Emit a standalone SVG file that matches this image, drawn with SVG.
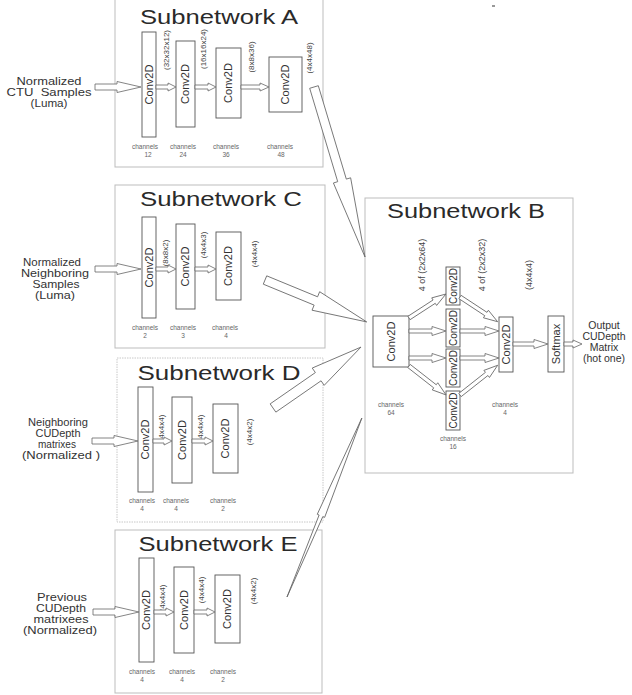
<svg xmlns="http://www.w3.org/2000/svg" width="632" height="695" viewBox="0 0 632 695">
<style>
text{font-family:"Liberation Sans",Arial,sans-serif}
.frame{fill:none;stroke:#bdbdbd;stroke-width:1}
.dash{stroke:#c8c8c8;stroke-dasharray:1.5 1}
.conv{fill:#fff;stroke:#555;stroke-width:0.9}
.arrow{fill:#fff;stroke:#666;stroke-width:0.8}
.title{font-size:20px;fill:#2a2a2a;text-anchor:middle}
.lbl{font-size:10.5px;fill:#333;text-anchor:middle}
.cv{font-size:11px;fill:#333;text-anchor:middle}
.cvs{font-size:10px;fill:#333;text-anchor:middle}
.dim{font-size:8px;fill:#444;text-anchor:middle}
.dimb{font-size:9px;fill:#444;text-anchor:middle}
.ch{font-size:6.5px;fill:#666;text-anchor:middle}
</style>
<rect x="0" y="0" width="632" height="695" fill="#fff"/>
<rect x="492" y="5" width="3" height="2" fill="#999"/>

<!-- Subnetwork A -->
<g id="subnetA">
<rect class="frame" x="115" y="-5" width="208" height="172"/>
<text class="title" x="219" y="24" textLength="158" lengthAdjust="spacingAndGlyphs">Subnetwork A</text>
<g id="A-input"><text class="lbl" x="49" y="85" textLength="65" lengthAdjust="spacingAndGlyphs">Normalized</text>
<text class="lbl" x="49" y="96" textLength="85" lengthAdjust="spacingAndGlyphs" xml:space="preserve">CTU  Samples</text>
<text class="lbl" x="49" y="107" textLength="37" lengthAdjust="spacingAndGlyphs">(Luma)</text></g>
<g id="A-conv1"><rect class="conv" x="142" y="32" width="14" height="105"/><text class="cv" transform="translate(149,84.5) rotate(-90)" dy="0.35em">Conv2D</text></g>
<g id="A-conv2"><rect class="conv" x="176" y="41" width="19" height="86"/><text class="cv" transform="translate(185.5,84) rotate(-90)" dy="0.35em">Conv2D</text></g>
<g id="A-conv3"><rect class="conv" x="216" y="48" width="25" height="70"/><text class="cv" transform="translate(228.5,83) rotate(-90)" dy="0.35em">Conv2D</text></g>
<g id="A-conv4"><rect class="conv" x="269" y="57" width="33" height="55"/><text class="cv" transform="translate(285.5,84.5) rotate(-90)" dy="0.35em">Conv2D</text></g>
<text class="dim" transform="translate(166,50) rotate(-90)" dy="0.35em">(32x32x12)</text>
<text class="dim" transform="translate(203,49) rotate(-90)" dy="0.35em">(16x16x24)</text>
<text class="dim" transform="translate(251,57) rotate(-90)" dy="0.35em">(8x8x36)</text>
<text class="dim" transform="translate(309,58) rotate(-90)" dy="0.35em">(4x4x48)</text>
<text class="ch" x="145" y="149">channels</text><text class="ch" x="148" y="157">12</text>
<text class="ch" x="183" y="149">channels</text><text class="ch" x="183" y="157">24</text>
<text class="ch" x="226" y="149">channels</text><text class="ch" x="226" y="157">36</text>
<text class="ch" x="280" y="149">channels</text><text class="ch" x="281" y="157">48</text>
</g>

<!-- Subnetwork C -->
<g id="subnetC">
<rect class="frame" x="115" y="185" width="210" height="163"/>
<text class="title" x="221" y="206" textLength="162" lengthAdjust="spacingAndGlyphs">Subnetwork C</text>
<g id="C-input"><text class="lbl" x="52" y="266" textLength="58" lengthAdjust="spacingAndGlyphs">Normalized</text>
<text class="lbl" x="55" y="277" textLength="68" lengthAdjust="spacingAndGlyphs">Neighboring</text>
<text class="lbl" x="56" y="288" textLength="47" lengthAdjust="spacingAndGlyphs">Samples</text>
<text class="lbl" x="55" y="299" textLength="40" lengthAdjust="spacingAndGlyphs">(Luma)</text></g>
<g id="C-conv1"><rect class="conv" x="142" y="217" width="14" height="101"/><text class="cv" transform="translate(149,267.5) rotate(-90)" dy="0.35em">Conv2D</text></g>
<g id="C-conv2"><rect class="conv" x="176" y="224" width="19" height="85"/><text class="cv" transform="translate(185.5,266.5) rotate(-90)" dy="0.35em">Conv2D</text></g>
<g id="C-conv3"><rect class="conv" x="216" y="232" width="25" height="68"/><text class="cv" transform="translate(228.5,266) rotate(-90)" dy="0.35em">Conv2D</text></g>
<text class="dim" transform="translate(165,253) rotate(-90)" dy="0.35em">(8x8x2)</text>
<text class="dim" transform="translate(203,245) rotate(-90)" dy="0.35em">(4x4x3)</text>
<text class="dim" transform="translate(254,254) rotate(-90)" dy="0.35em">(4x4x4)</text>
<text class="ch" x="145" y="330">channels</text><text class="ch" x="145" y="338">2</text>
<text class="ch" x="183" y="330">channels</text><text class="ch" x="183" y="338">3</text>
<text class="ch" x="225" y="330">channels</text><text class="ch" x="226" y="338">4</text>
</g>

<!-- Subnetwork D -->
<g id="subnetD">
<rect class="frame dash" x="117" y="358" width="206" height="164"/>
<text class="title" x="219" y="380" textLength="163" lengthAdjust="spacingAndGlyphs">Subnetwork D</text>
<g id="D-input"><text class="lbl" x="58" y="426" textLength="60" lengthAdjust="spacingAndGlyphs">Neighboring</text>
<text class="lbl" x="58" y="437" textLength="45" lengthAdjust="spacingAndGlyphs">CUDepth</text>
<text class="lbl" x="57" y="448" textLength="38" lengthAdjust="spacingAndGlyphs">matrixes</text>
<text class="lbl" x="61" y="459" textLength="78" lengthAdjust="spacingAndGlyphs" xml:space="preserve">(Normalized )</text></g>
<g id="D-conv1"><rect class="conv" x="138" y="387" width="15" height="105"/><text class="cv" transform="translate(145.5,439.5) rotate(-90)" dy="0.35em">Conv2D</text></g>
<g id="D-conv2"><rect class="conv" x="172" y="397" width="20" height="86"/><text class="cv" transform="translate(182,440) rotate(-90)" dy="0.35em">Conv2D</text></g>
<g id="D-conv3"><rect class="conv" x="213" y="404" width="25" height="69"/><text class="cv" transform="translate(225.5,438.5) rotate(-90)" dy="0.35em">Conv2D</text></g>
<text class="dim" transform="translate(161,428) rotate(-90)" dy="0.35em">(4x4x4)</text>
<text class="dim" transform="translate(200,428) rotate(-90)" dy="0.35em">(4x4x4)</text>
<text class="dim" transform="translate(249,432) rotate(-90)" dy="0.35em">(4x4x2)</text>
<text class="ch" x="142" y="503">channels</text><text class="ch" x="142" y="511">4</text>
<text class="ch" x="176" y="503">channels</text><text class="ch" x="176" y="511">4</text>
<text class="ch" x="223" y="503">channels</text><text class="ch" x="223" y="511">2</text>
</g>

<!-- Subnetwork E -->
<g id="subnetE">
<rect class="frame" x="115" y="530" width="207" height="163"/>
<text class="title" x="218" y="551" textLength="159" lengthAdjust="spacingAndGlyphs">Subnetwork E</text>
<g id="E-input"><text class="lbl" x="62" y="601" textLength="50" lengthAdjust="spacingAndGlyphs">Previous</text>
<text class="lbl" x="61" y="612" textLength="50" lengthAdjust="spacingAndGlyphs">CUDepth</text>
<text class="lbl" x="61" y="623" textLength="55" lengthAdjust="spacingAndGlyphs">matrixees</text>
<text class="lbl" x="60" y="634" textLength="74" lengthAdjust="spacingAndGlyphs">(Normalized)</text></g>
<g id="E-conv1"><rect class="conv" x="139" y="558" width="15" height="104"/><text class="cv" transform="translate(146.5,610) rotate(-90)" dy="0.35em">Conv2D</text></g>
<g id="E-conv2"><rect class="conv" x="174" y="567" width="20" height="86"/><text class="cv" transform="translate(184,610) rotate(-90)" dy="0.35em">Conv2D</text></g>
<g id="E-conv3"><rect class="conv" x="215" y="575" width="25" height="68"/><text class="cv" transform="translate(227.5,609) rotate(-90)" dy="0.35em">Conv2D</text></g>
<text class="dim" transform="translate(162,598) rotate(-90)" dy="0.35em">(4x4x4)</text>
<text class="dim" transform="translate(201,590) rotate(-90)" dy="0.35em">(4x4x4)</text>
<text class="dim" transform="translate(253,591) rotate(-90)" dy="0.35em">(4x4x2)</text>
<text class="ch" x="142" y="674">channels</text><text class="ch" x="142" y="682">4</text>
<text class="ch" x="182" y="674">channels</text><text class="ch" x="182" y="682">4</text>
<text class="ch" x="223" y="674">channels</text><text class="ch" x="223" y="682">2</text>
</g>

<!-- Subnetwork B -->
<g id="subnetB">
<rect class="frame" x="365" y="198" width="208" height="275"/>
<text class="title" x="466" y="218" textLength="158" lengthAdjust="spacingAndGlyphs">Subnetwork B</text>
<g id="B-conv64"><rect class="conv" x="373" y="316" width="36" height="51"/><text class="cv" transform="translate(391,341.5) rotate(-90)" dy="0.35em">Conv2D</text></g>
<g id="B-mid1"><rect class="conv" x="446" y="267" width="14" height="38"/><text class="cvs" transform="translate(453,286) rotate(-90)" dy="0.35em">Conv2D</text></g>
<g id="B-mid2"><rect class="conv" x="446" y="309" width="14" height="38"/><text class="cvs" transform="translate(453,328) rotate(-90)" dy="0.35em">Conv2D</text></g>
<g id="B-mid3"><rect class="conv" x="446" y="349" width="14" height="38"/><text class="cvs" transform="translate(453,368) rotate(-90)" dy="0.35em">Conv2D</text></g>
<g id="B-mid4"><rect class="conv" x="446" y="391" width="14" height="39"/><text class="cvs" transform="translate(453,410.5) rotate(-90)" dy="0.35em">Conv2D</text></g>
<g id="B-conv4"><rect class="conv" x="499" y="317" width="14" height="55"/><text class="cv" transform="translate(506,344.5) rotate(-90)" dy="0.35em">Conv2D</text></g>
<g id="B-softmax"><rect class="conv" x="548" y="316" width="16" height="56"/><text class="cv" transform="translate(556,344) rotate(-90)" dy="0.35em">Softmax</text></g>
<text class="dimb" transform="translate(422,265) rotate(-90)" dy="0.35em">4 of (2x2x64)</text>
<text class="dimb" transform="translate(482,265) rotate(-90)" dy="0.35em">4 of (2x2x32)</text>
<text class="dimb" transform="translate(529,275) rotate(-90)" dy="0.35em">(4x4x4)</text>
<text class="ch" x="391" y="406.5">channels</text><text class="ch" x="391" y="414.5">64</text>
<text class="ch" x="505" y="406.5">channels</text><text class="ch" x="505" y="414.5">4</text>
<text class="ch" x="453" y="440.5">channels</text><text class="ch" x="453" y="448.5">16</text>
</g>
<g id="output">
<text class="lbl" x="604" y="329">Output</text>
<text class="lbl" x="604" y="340">CUDepth</text>
<text class="lbl" x="604" y="351">Matrix</text>
<text class="lbl" x="604" y="362">(hot one)</text>
</g>

<g id="connectors">
<path class="arrow" transform="translate(95,87)" d="M0,-3 H22 V-5.5 L46,0 L22,5.5 V3 H0 Z"/>
<path class="arrow" transform="translate(95,269)" d="M0,-3 H22 V-5.5 L46,0 L22,5.5 V3 H0 Z"/>
<path class="arrow" transform="translate(92,441)" d="M0,-3 H22 V-5.5 L46,0 L22,5.5 V3 H0 Z"/>
<path class="arrow" transform="translate(93,612)" d="M0,-3 H22 V-5.5 L46,0 L22,5.5 V3 H0 Z"/>
<path class="arrow" transform="translate(156,87)" d="M0,-2 H12 V-4 L20,0 L12,4 V2 H0 Z"/>
<path class="arrow" transform="translate(195,87)" d="M0,-2 H13 V-4 L21,0 L13,4 V2 H0 Z"/>
<path class="arrow" transform="translate(241,87)" d="M0,-2 H19 V-4 L28,0 L19,4 V2 H0 Z"/>
<path class="arrow" transform="translate(156,269)" d="M0,-2 H12 V-4 L20,0 L12,4 V2 H0 Z"/>
<path class="arrow" transform="translate(195,269)" d="M0,-2 H13 V-4 L21,0 L13,4 V2 H0 Z"/>
<path class="arrow" transform="translate(153,441)" d="M0,-2 H11 V-4 L19,0 L11,4 V2 H0 Z"/>
<path class="arrow" transform="translate(192,441)" d="M0,-2 H13 V-4 L21,0 L13,4 V2 H0 Z"/>
<path class="arrow" transform="translate(154,612)" d="M0,-2 H12 V-4 L20,0 L12,4 V2 H0 Z"/>
<path class="arrow" transform="translate(194,612)" d="M0,-2 H13 V-4 L21,0 L13,4 V2 H0 Z"/>
<path class="arrow" transform="translate(314,87) rotate(73.3)" d="M0,-4.5 H97.5 V-9 L177.5,0 L97.5,9 V4.5 H0 Z"/>
<path class="arrow" transform="translate(265,280) rotate(22.4)" d="M0,-4.5 H55 V-10 L110,0 L55,10 V4.5 H0 Z"/>
<path class="arrow" transform="translate(273,408) rotate(-34.7)" d="M0,-5 H55 V-10.5 L107,0 L55,10.5 V5 H0 Z"/>
<path class="arrow" transform="translate(287,597) rotate(-67.3)" d="M0,0 L88,-2 L88,-4 L194,0 L88,4 L88,2 Z"/>
<path class="arrow" transform="translate(409,318) rotate(-33)" d="M0,-2 H30 V-4.5 L44,0 L30,4.5 V2 H0 Z"/>
<path class="arrow" transform="translate(409,331)" d="M0,-2 H23 V-4.5 L37,0 L23,4.5 V2 H0 Z"/>
<path class="arrow" transform="translate(409,358)" d="M0,-2 H23 V-4.5 L37,0 L23,4.5 V2 H0 Z"/>
<path class="arrow" transform="translate(409,366) rotate(38)" d="M0,-2 H33 V-4.5 L47,0 L33,4.5 V2 H0 Z"/>
<path class="arrow" transform="translate(460,297) rotate(33.3)" d="M0,-2 H31 V-4.5 L45,0 L31,4.5 V2 H0 Z"/>
<path class="arrow" transform="translate(460,331)" d="M0,-2 H25 V-4.5 L39,0 L25,4.5 V2 H0 Z"/>
<path class="arrow" transform="translate(460,358)" d="M0,-2 H25 V-4.5 L39,0 L25,4.5 V2 H0 Z"/>
<path class="arrow" transform="translate(460,395) rotate(-38.3)" d="M0,-2 H34 V-4.5 L48,0 L34,4.5 V2 H0 Z"/>
<path class="arrow" transform="translate(513,344)" d="M0,-2 H21 V-4.5 L35,0 L21,4.5 V2 H0 Z"/>
<path class="arrow" transform="translate(564,344)" d="M0,-2 H9 V-4 L18,0 L9,4 V2 H0 Z"/>
</g>
</svg>
